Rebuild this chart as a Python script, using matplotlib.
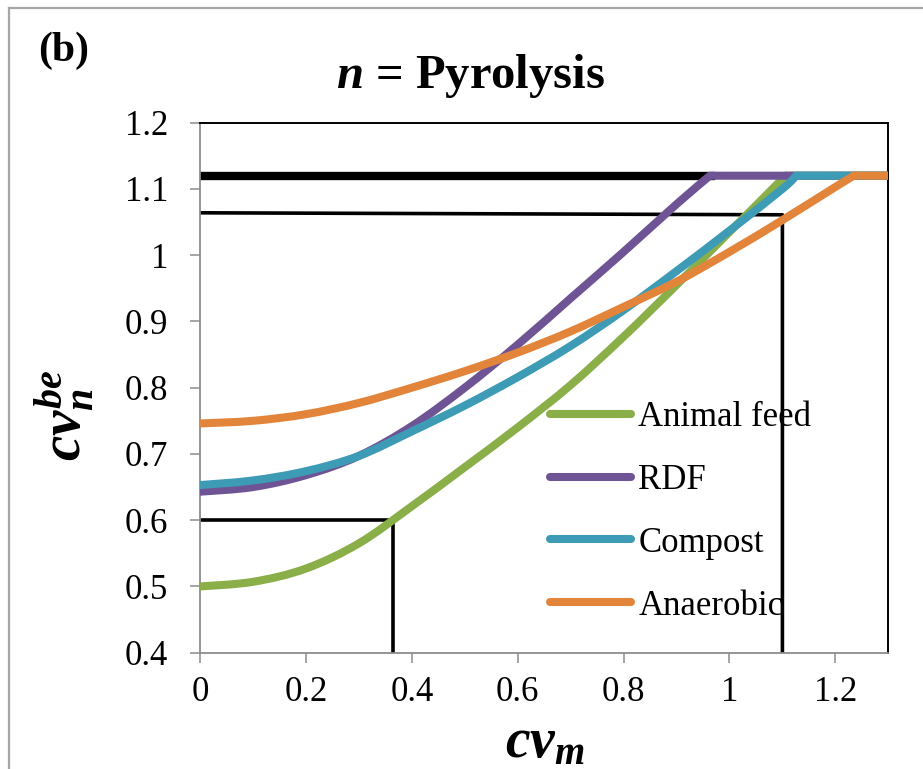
"""cv_n^be against cv_m for the pyrolysis case, panel (b)."""

import matplotlib

matplotlib.use("Agg")

import matplotlib.pyplot as plt
import numpy as np
from matplotlib.lines import Line2D
from matplotlib.patches import PathPatch
from matplotlib.path import Path

GREEN = "#8AAE48"
PURPLE = "#6E5494"
TEAL = "#3D9BB5"
ORANGE = "#E3843B"
AXIS_GREY = "#8C8C8C"

# curve values (rising part, then the 1.12 cap)
feed_x = [0.0, 0.1, 0.2, 0.3, 0.4, 0.5, 0.6, 0.7, 0.8, 0.9, 1.0, 1.106, 1.3]
feed_y = [0.500, 0.507, 0.527, 0.565, 0.621, 0.680, 0.740, 0.804, 0.877, 0.955, 1.035, 1.12, 1.12]

rdf_x = [0.0, 0.1, 0.2, 0.3, 0.4, 0.5, 0.6, 0.7, 0.8, 0.9, 0.963, 1.3]
rdf_y = [0.643, 0.650, 0.668, 0.697, 0.742, 0.800, 0.865, 0.935, 1.005, 1.077, 1.12, 1.12]

compost_x = [0.0, 0.1, 0.2, 0.3, 0.4, 0.5, 0.6, 0.7, 0.8, 0.9, 1.0, 1.1, 1.126, 1.3]
compost_y = [0.653, 0.660, 0.674, 0.697, 0.734, 0.773, 0.816, 0.863, 0.917, 0.976, 1.037, 1.100, 1.12, 1.12]

anaerobic_x = [0.0, 0.1, 0.2, 0.3, 0.4, 0.5, 0.6, 0.7, 0.8, 0.9, 1.0, 1.1, 1.2, 1.235, 1.3]
anaerobic_y = [0.746, 0.750, 0.760, 0.777, 0.800, 0.825, 0.853, 0.885, 0.922, 0.960, 1.005, 1.053, 1.103, 1.12, 1.12]

# black guide lines
cap_x = [0.0, 0.965]
cap_y = [1.12, 1.12]
upper_guide_x = [0.0, 1.1, 1.1]
upper_guide_y = [1.064, 1.061, 0.4]
lower_guide_x = [0.0, 0.365, 0.365]
lower_guide_y = [0.601, 0.601, 0.4]

x_ticks = [0.0, 0.2, 0.4, 0.6, 0.8, 1.0, 1.2]
x_tick_labels = ["0", "0.2", "0.4", "0.6", "0.8", "1", "1.2"]
y_ticks = [0.4, 0.5, 0.6, 0.7, 0.8, 0.9, 1.0, 1.1, 1.2]
y_tick_labels = ["0.4", "0.5", "0.6", "0.7", "0.8", "0.9", "1", "1.1", "1.2"]

series = [
    ("Animal feed", feed_x, feed_y, GREEN),
    ("RDF", rdf_x, rdf_y, PURPLE),
    ("Compost", compost_x, compost_y, TEAL),
    ("Anaerobic", anaerobic_x, anaerobic_y, ORANGE),
]


def smoothed_path(xs, ys):
    """Smoothed line through the rising points, straight along the cap."""
    pts = np.column_stack([xs, ys]).astype(float)
    rising = pts[:-1]
    padded = np.vstack([rising[0], rising, rising[-1]])
    verts = [rising[0]]
    codes = [Path.MOVETO]
    for i in range(len(rising) - 1):
        p0, p1, p2, p3 = padded[i], padded[i + 1], padded[i + 2], padded[i + 3]
        verts += [p1 + (p2 - p0) / 6, p2 - (p3 - p1) / 6, p2]
        codes += [Path.CURVE4] * 3
    verts.append(pts[-1])
    codes.append(Path.LINETO)
    return Path(verts, codes)


plt.rcParams.update(
    {
        "font.family": ["Liberation Serif", "DejaVu Serif"],
        "mathtext.fontset": "custom",
        "mathtext.rm": "Liberation Serif:bold",
        "mathtext.it": "Liberation Serif:italic:bold",
        "mathtext.bf": "Liberation Serif:italic:bold",
    }
)

W, H = 923, 769
fig = plt.figure(figsize=(W / 100, H / 100), dpi=100)
ax = fig.add_axes(
    [200 / W, 1 - 652.7 / H, (888.3 - 200) / W, (652.7 - 122.7) / H]
)

ax.plot(cap_x, cap_y, color="black", linewidth=6.0, zorder=2)
ax.plot(upper_guide_x, upper_guide_y, color="black", linewidth=2.6, zorder=2)
ax.plot(lower_guide_x, lower_guide_y, color="black", linewidth=2.6, zorder=2)

for label, xs, ys, color in series:
    ax.add_patch(
        PathPatch(
            smoothed_path(xs, ys),
            facecolor="none",
            edgecolor=color,
            linewidth=5.8,
            capstyle="round",
            joinstyle="round",
            zorder=3,
        )
    )

ax.set_xlim(0, 1.3)
ax.set_ylim(0.4, 1.2)
ax.set_xticks(x_ticks)
ax.set_xticklabels(x_tick_labels)
ax.set_yticks(y_ticks)
ax.set_yticklabels(y_tick_labels)
ax.tick_params(axis="both", direction="out", length=7, width=1.1,
               color=AXIS_GREY, labelsize=25)
ax.tick_params(axis="y", pad=16)
ax.tick_params(axis="x", pad=10)

for side in ("left", "bottom"):
    ax.spines[side].set_color(AXIS_GREY)
    ax.spines[side].set_linewidth(1.3)
for side in ("top", "right"):
    ax.spines[side].set_color("black")
    ax.spines[side].set_linewidth(1.4)

legend_handles = [
    Line2D([], [], color=color, linewidth=5.8, solid_capstyle="round")
    for _, _, _, color in series
]
ax.legend(
    legend_handles,
    [label for label, _, _, _ in series],
    loc="center left",
    bbox_to_anchor=(0.508, 0.266),
    frameon=False,
    fontsize=25,
    handlelength=2.35,
    handletextpad=0.2,
    labelspacing=0.86,
    borderpad=0,
    borderaxespad=0,
)

fig.text(470 / W, 1 - 76 / H, r"$n$ = Pyrolysis", fontsize=35,
         fontweight="bold", ha="center", va="center")
fig.text(64 / W, 1 - 51 / H, "(b)", fontsize=30, fontweight="bold",
         ha="center", va="center")
fig.text(64.5 / W, 1 - 415 / H, r"$cv_n^{be}$", fontsize=41,
         rotation=90, ha="center", va="center")
fig.text(545 / W, 1 - 743 / H, r"$cv_m$", fontsize=40,
         ha="center", va="center")

# grey frame of the original chart area, cut off at right and bottom
fig.add_artist(Line2D([9 / W, 9 / W], [0, 1 - 8 / H], color="#A6A6A6",
                      linewidth=1.6, transform=fig.transFigure))
fig.add_artist(Line2D([9 / W, 1], [1 - 8 / H, 1 - 8 / H], color="#A6A6A6",
                      linewidth=1.6, transform=fig.transFigure))

fig.savefig("out.png", dpi=100)
